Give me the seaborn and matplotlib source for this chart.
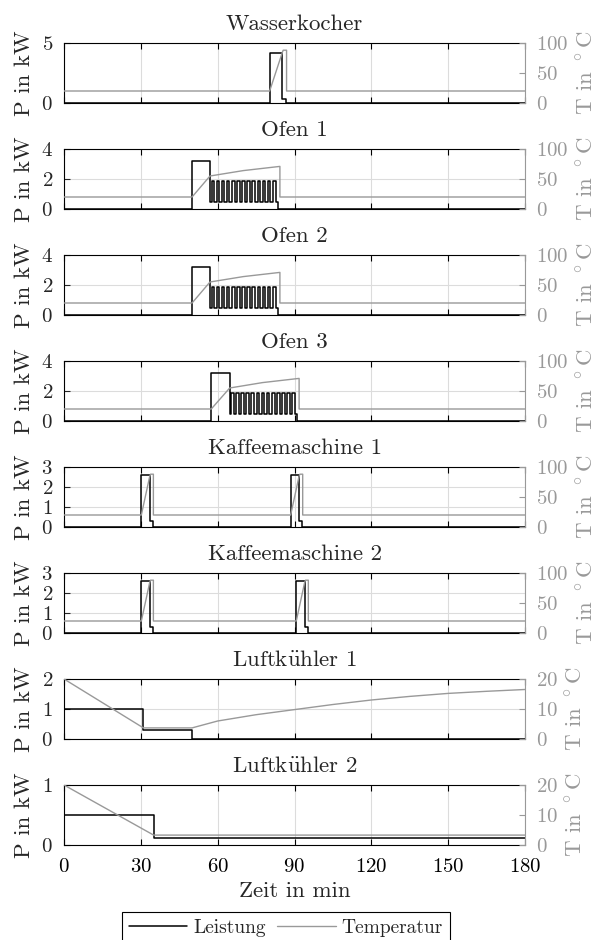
import matplotlib
matplotlib.use("Agg")
import matplotlib.pyplot as plt
from matplotlib.lines import Line2D
import seaborn as sns

# ---- data ----
titles = ["Wasserkocher", "Ofen 1", "Ofen 2", "Ofen 3",
          "Kaffeemaschine 1", "Kaffeemaschine 2",
          r"Luftk$\mathrm{\ddot{u}}$hler 1", r"Luftk$\mathrm{\ddot{u}}$hler 2"]

p_max = [5, 4, 4, 4, 3, 3, 2, 1]
p_ticks = [[0, 5], [0, 2, 4], [0, 2, 4], [0, 2, 4],
           [0, 1, 2, 3], [0, 1, 2, 3], [0, 1, 2], [0, 1]]
t_max = [100, 100, 100, 100, 100, 100, 20, 20]
t_ticks = [[0, 50, 100]] * 6 + [[0, 10, 20]] * 2

x_ticks = [0, 30, 60, 90, 120, 150, 180]

# power: change points (step after)
wk_p_t = [0, 80.3, 85.3, 86.6, 180]
wk_p = [0, 4.2, 0.3, 0, 0]
wk_T_t = [0, 80.3, 85.3, 85.6, 86.9, 86.9, 180]
wk_T = [20, 20, 85, 88, 88, 20, 20]

# ovens: preheat block, then cycling between low and high
ofen_start = [50.0, 50.0, 57.5]
ofen_preheat_end = [57.0, 57.0, 64.7]
ofen_end = [83.4, 83.4, 91.0]
ofen_pulse_on = [
    [57.6, 59.6, 61.6, 63.6, 65.6, 67.6, 69.6, 71.6, 73.6, 75.6, 77.6, 79.6, 81.6],
    [57.6, 59.6, 61.6, 63.6, 65.6, 67.6, 69.6, 71.6, 73.6, 75.6, 77.6, 79.6, 81.6],
    [65.2, 67.2, 69.2, 71.2, 73.2, 75.2, 77.2, 79.2, 81.2, 83.2, 85.2, 87.2, 89.2],
]
ofen_pulse_off = [
    [58.6, 60.6, 62.6, 64.6, 66.6, 68.6, 70.6, 72.6, 74.6, 76.6, 78.6, 80.6, 82.6],
    [58.6, 60.6, 62.6, 64.6, 66.6, 68.6, 70.6, 72.6, 74.6, 76.6, 78.6, 80.6, 82.6],
    [66.2, 68.2, 70.2, 72.2, 74.2, 76.2, 78.2, 80.2, 82.2, 84.2, 86.2, 88.2, 90.2],
]
ofen_p_preheat = 3.2
ofen_p_high = 1.9
ofen_p_low = 0.5
ofen_T_t = [
    [0, 50.0, 57.0, 70.0, 84.3, 84.3, 180],
    [0, 50.0, 57.0, 70.0, 84.3, 84.3, 180],
    [0, 57.5, 64.7, 77.5, 91.8, 91.8, 180],
]
ofen_T = [20, 20, 55, 64, 71, 20, 20]

km1_p_t = [0, 30.2, 33.5, 34.7, 88.5, 91.8, 93.0, 180]
km1_p = [0, 2.6, 0.3, 0, 2.6, 0.3, 0, 0]
km1_T_t = [0, 30.2, 33.5, 33.8, 34.9, 34.9, 88.5, 91.8, 92.1, 93.2, 93.2, 180]
km1_T = [20, 20, 85, 88, 88, 20, 20, 85, 88, 88, 20, 20]

km2_p_t = [0, 30.2, 33.5, 34.7, 90.7, 94.0, 95.2, 180]
km2_p = [0, 2.6, 0.3, 0, 2.6, 0.3, 0, 0]
km2_T_t = [0, 30.2, 33.5, 33.8, 34.9, 34.9, 90.7, 94.0, 94.3, 95.4, 95.4, 180]
km2_T = [20, 20, 85, 88, 88, 20, 20, 85, 88, 88, 20, 20]

lk1_p_t = [0, 31, 50, 180]
lk1_p = [1.0, 0.3, 0, 0]
lk1_T_t = [0, 31, 50, 60, 75, 90, 105, 120, 135, 150, 165, 180]
lk1_T = [20, 3.7, 3.7, 6.0, 8.1, 9.8, 11.5, 13.0, 14.2, 15.2, 15.9, 16.5]

lk2_p_t = [0, 35, 180]
lk2_p = [0.5, 0.12, 0.12]
lk2_T_t = [0, 35, 180]
lk2_T = [20, 3.3, 3.3]


def oven_steps(i):
    t = [0, ofen_start[i], ofen_preheat_end[i]]
    p = [0, ofen_p_preheat, ofen_p_low]
    for on, off in zip(ofen_pulse_on[i], ofen_pulse_off[i]):
        t += [on, off]
        p += [ofen_p_high, ofen_p_low]
    t += [ofen_end[i], 180]
    p += [0, 0]
    return t, p


power = [(wk_p_t, wk_p)] + [oven_steps(i) for i in range(3)] + \
        [(km1_p_t, km1_p), (km2_p_t, km2_p), (lk1_p_t, lk1_p), (lk2_p_t, lk2_p)]
temp = [(wk_T_t, wk_T)] + [(ofen_T_t[i], ofen_T) for i in range(3)] + \
       [(km1_T_t, km1_T), (km2_T_t, km2_T), (lk1_T_t, lk1_T), (lk2_T_t, lk2_T)]

# ---- style ----
sns.set_theme(style="white")
plt.rcParams["font.family"] = ["cmr10", "DejaVu Serif"]
plt.rcParams["mathtext.fontset"] = "cm"
plt.rcParams["axes.formatter.use_mathtext"] = True
plt.rcParams["xtick.direction"] = "in"
plt.rcParams["ytick.direction"] = "in"
plt.rcParams["axes.linewidth"] = 0.8

GRAY = "#999999"
FS = 15
FL = 16.5

fig = plt.figure(figsize=(5.98, 9.4), dpi=100)
W, H = 598, 940
left, width = 64 / W, 461 / W

for i in range(8):
    top = 43 + 106 * i
    ax = fig.add_axes([left, 1 - (top + 60) / H, width, 60 / H])
    ax2 = ax.twinx()

    pt, pv = power[i]
    tt, tv = temp[i]
    sns.lineplot(x=pt, y=pv, ax=ax, color="black", linewidth=1.1,
                 drawstyle="steps-post", estimator=None, sort=False)
    sns.lineplot(x=tt, y=tv, ax=ax2, color=GRAY, linewidth=1.0,
                 estimator=None, sort=False)

    ax.set_xlim(0, 180)
    ax.set_ylim(0, p_max[i])
    ax2.set_ylim(0, t_max[i])
    ax.set_xticks(x_ticks)
    ax.set_yticks(p_ticks[i])
    ax2.set_yticks(t_ticks[i])

    ax.grid(True, color="#dcdcdc", linewidth=0.8)
    ax.set_axisbelow(True)
    ax.tick_params(axis="x", top=True, bottom=True, length=4, width=0.8,
                   colors="black", labelsize=FS, pad=9)
    ax.tick_params(axis="y", left=True, right=False, length=4, width=0.8,
                   labelsize=FS, pad=8)
    ax2.tick_params(axis="y", right=True, length=4, width=0.8,
                    colors=GRAY, labelsize=FS, pad=8)

    for s in ["left", "bottom", "top"]:
        ax.spines[s].set_color("black")
    ax.spines["right"].set_visible(False)
    for s in ["left", "bottom", "top"]:
        ax2.spines[s].set_visible(False)
    ax2.spines["right"].set_color(GRAY)
    ax2.spines["right"].set_linewidth(0.8)

    ax.set_ylabel("P in kW", fontsize=FL, labelpad=5)
    ax2.set_ylabel(r"T in $^\circ$C", fontsize=FL, color=GRAY, labelpad=5)
    ax.set_title(titles[i], fontsize=FL, pad=9)

    if i < 7:
        ax.set_xticklabels([])
        ax.set_xlabel("")
    else:
        ax.set_xlabel("Zeit in min", fontsize=FL, labelpad=4)

handles = [Line2D([], [], color="black", linewidth=1.1),
           Line2D([], [], color=GRAY, linewidth=1.0)]
leg = fig.legend(handles, ["Leistung", "Temperatur"], ncol=2,
                 loc="upper center", bbox_to_anchor=(286 / W, 1 - 912 / H),
                 borderaxespad=0, fontsize=14, frameon=True, fancybox=False,
                 framealpha=1, edgecolor="black", handlelength=3.0,
                 handletextpad=0.3, columnspacing=0.6, borderpad=0.35)
leg.get_frame().set_linewidth(0.8)

fig.savefig("out.png", dpi=100)
